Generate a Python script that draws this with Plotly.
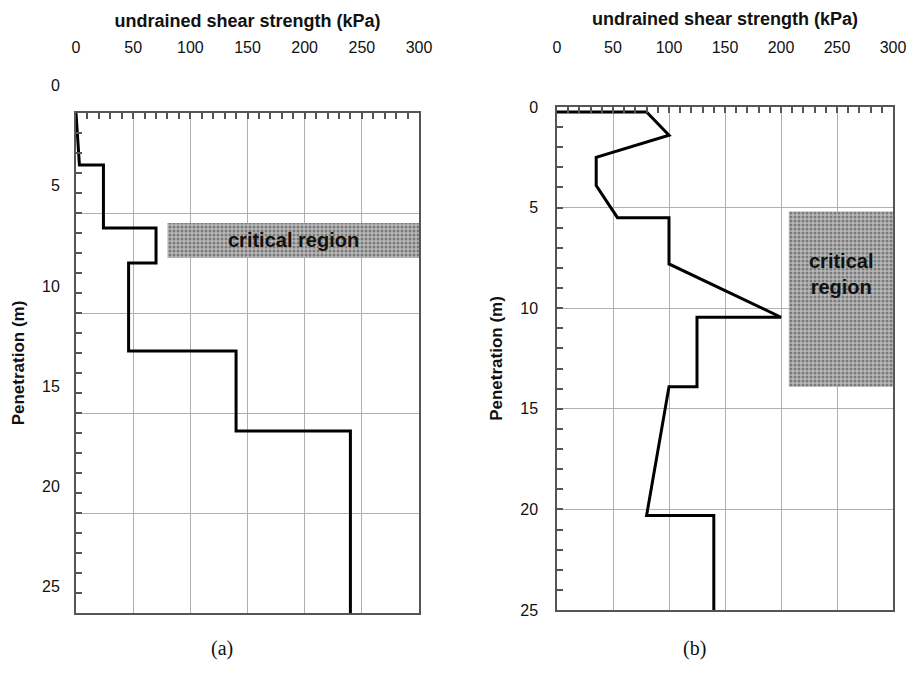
import plotly.graph_objects as go

# ---------------- data ----------------
# (a) profile: undrained shear strength (kPa) vs penetration (m)
su_a = [0, 3, 24, 24, 70, 70, 46, 46, 140, 140, 240, 240]
depth_a = [0, 2.6, 2.6, 5.75, 5.75, 7.5, 7.5, 11.9, 11.9, 15.9, 15.9, 25]

# (b) profile
su_b = [0, 80, 100, 35, 35, 54, 100, 100, 200, 125, 125, 100, 80, 140, 140]
depth_b = [0.25, 0.25, 1.4, 2.5, 3.9, 5.5, 5.5, 7.8, 10.45, 10.45, 13.9, 13.9, 20.3, 20.3, 25]

# critical regions: [su_min, su_max], [depth_top, depth_bottom]
crit_a_su = [80, 300]
crit_a_depth = [5.5, 7.25]
crit_b_su = [207, 300]
crit_b_depth = [5.2, 13.9]

x_ticks = [0, 50, 100, 150, 200, 250, 300]
y_ticks = [0, 5, 10, 15, 20, 25]

# ---------------- styling ----------------
W, H = 913, 678
sans = "Liberation Sans, Arial, sans-serif"
serif = "Liberation Serif, Times New Roman, serif"
AX = "#555555"
GRID = "#b0b0b0"
TXT = "#111111"


def rect(xs, ys):
    return [xs[0], xs[1], xs[1], xs[0], xs[0]], [ys[0], ys[0], ys[1], ys[1], ys[0]]


fig = go.Figure()

for su_c, d_c, xa, ya in [(crit_a_su, crit_a_depth, "x", "y"), (crit_b_su, crit_b_depth, "x2", "y2")]:
    rx, ry = rect(su_c, d_c)
    fig.add_trace(go.Scatter(
        x=rx, y=ry, xaxis=xa, yaxis=ya, mode="lines", fill="toself",
        line=dict(width=0, color="rgba(0,0,0,0)"),
        fillcolor="#a8a8a8",
        fillpattern=dict(shape=".", fgcolor="#3a3a3a", bgcolor="#b8b8b8", size=4, solidity=0.45),
        hoverinfo="skip", showlegend=False))

fig.add_trace(go.Scatter(x=su_a, y=depth_a, xaxis="x", yaxis="y", mode="lines",
                         line=dict(color="black", width=3), showlegend=False))
fig.add_trace(go.Scatter(x=su_b, y=depth_b, xaxis="x2", yaxis="y2", mode="lines",
                         line=dict(color="black", width=3), showlegend=False))


def px_x(a, b):
    return [a / W, b / W]


def px_y(top, bottom):
    return [1 - bottom / H, 1 - top / H]


common_x = dict(
    range=[0, 300], side="top", tickvals=x_ticks, ticktext=[str(v) for v in x_ticks],
    showline=True, mirror=True, linecolor=AX, linewidth=1.5,
    showgrid=True, gridcolor=GRID, gridwidth=1, zeroline=False,
    ticks="inside", ticklen=6, tickcolor=AX, tickwidth=1.5,
    minor=dict(dtick=10, ticks="inside", ticklen=6, tickcolor=AX, tickwidth=1.5, showgrid=False),
    tickfont=dict(family=sans, size=16, color=TXT),
    title=dict(text="<b>undrained shear strength (kPa)</b>", font=dict(family=sans, size=18, color=TXT)),
    fixedrange=True, automargin=False,
)
common_y = dict(
    range=[25, 0], tickvals=y_ticks,
    showline=True, mirror=True, linecolor=AX, linewidth=1.5,
    showgrid=True, gridcolor=GRID, gridwidth=1, zeroline=False,
    ticks="inside", ticklen=6, tickcolor=AX, tickwidth=1.5,
    minor=dict(dtick=1, ticks="inside", ticklen=6, tickcolor=AX, tickwidth=1.5, showgrid=False),
    tickfont=dict(family=sans, size=16, color=TXT),
    fixedrange=True, automargin=False,
)

fig.update_layout(
    width=W, height=H, margin=dict(l=0, r=0, t=0, b=0),
    paper_bgcolor="white", plot_bgcolor="white", showlegend=False,
    xaxis=dict(common_x, domain=px_x(76, 419), anchor="y", ticklabelstandoff=52,
               title_standoff=7),
    yaxis=dict(common_y, domain=px_y(113, 613), anchor="x", showticklabels=False,
               title=dict(text="<b>Penetration (m)</b>", font=dict(family=sans, size=17, color=TXT), standoff=45)),
    xaxis2=dict(common_x, domain=px_x(557, 893), anchor="y2", ticklabelstandoff=46,
                title_standoff=9),
    yaxis2=dict(common_y, domain=px_y(107, 610), anchor="x2", ticklabelstandoff=14,
                title=dict(text="<b>Penetration (m)</b>", font=dict(family=sans, size=17, color=TXT), standoff=13)),
)

# left y tick labels sit somewhat above their gridlines in the original
for v in y_ticks:
    fig.add_annotation(x=0, xref="x domain", y=v, yref="y", text=str(v), showarrow=False,
                       xanchor="right", yanchor="middle", xshift=-14, yshift=27,
                       font=dict(family=sans, size=16, color=TXT))

# critical region labels
fig.add_annotation(x=sum(crit_a_su) / 2, y=sum(crit_a_depth) / 2, xref="x", yref="y",
                   text="<b>critical region</b>", showarrow=False,
                   font=dict(family=sans, size=20, color=TXT))
fig.add_annotation(x=sum(crit_b_su) / 2, y=8.3, xref="x2", yref="y2",
                   text="<b>critical<br>region</b>", showarrow=False,
                   font=dict(family=sans, size=20, color=TXT))

# panel captions
fig.add_annotation(x=0.425, xref="x domain", y=1 - 662 / H, yref="paper", text="(a)", showarrow=False,
                   font=dict(family=serif, size=20, color=TXT))
fig.add_annotation(x=0.41, xref="x2 domain", y=1 - 662 / H, yref="paper", text="(b)", showarrow=False,
                   font=dict(family=serif, size=20, color=TXT))

fig.write_html("out.html")
